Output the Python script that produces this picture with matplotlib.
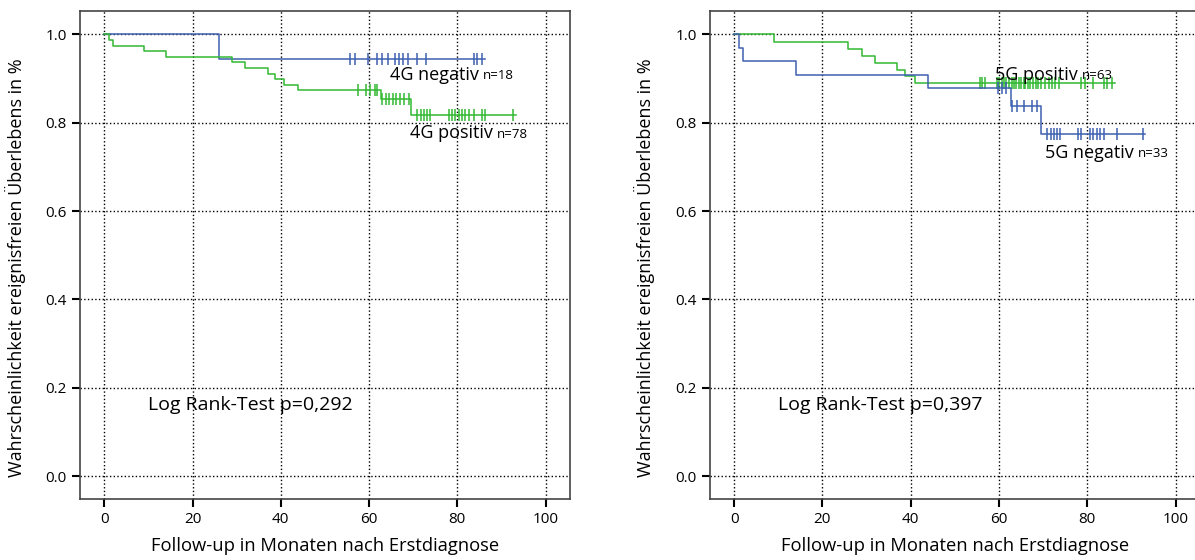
import numpy as np
import matplotlib
matplotlib.use('Agg')
import matplotlib.pyplot as plt

plt.rcParams['font.family'] = ['Open Sans', 'DejaVu Sans']

# Kaplan-Meier Daten
# links: 4G
neg4_t = [0, 26.0, 86.3]
neg4_s = [1.0, 0.944, 0.944]
neg4_cens = [55.7, 56.8, 59.7, 61.7, 63.0, 64.4, 65.9, 66.8, 67.8, 68.9, 70.8, 72.8, 83.7, 84.4, 85.6]

pos4_t = [0, 1.0, 2.0, 8.9, 14.1, 29.0, 31.9, 37.0, 38.7, 40.7, 43.9, 62.7, 69.6, 93.2]
pos4_s = [1.0, 0.987, 0.975, 0.962, 0.950, 0.937, 0.924, 0.911, 0.899, 0.886, 0.874, 0.855, 0.818, 0.818]
pos4_cens = [57.6, 59.2, 60.2, 61.3, 61.7, 63.0, 63.8, 64.5, 65.4, 66.2, 67.1, 68.0, 69.0,
             70.9, 71.7, 72.4, 73.2, 73.9, 78.0, 78.8, 79.5, 80.3, 81.1, 81.8, 82.6, 83.7,
             85.6, 86.3, 92.7]

# rechts: 5G
pos5_t = [0, 9.0, 25.9, 28.9, 32.0, 36.9, 38.8, 40.9, 86.3]
pos5_s = [1.0, 0.984, 0.968, 0.952, 0.936, 0.920, 0.905, 0.889, 0.889]
pos5_cens = [55.7, 56.2, 56.8, 59.6, 60.0, 60.6, 61.2, 61.7, 62.3, 62.9, 63.3, 63.9, 64.5,
             65.0, 65.6, 66.0, 66.6, 67.1, 67.7, 68.3, 68.9, 69.6, 70.4, 71.3, 72.0, 72.8,
             73.5, 78.6, 79.5, 81.4, 83.7, 84.4, 85.6]

neg5_t = [0, 1.0, 2.0, 14.1, 43.9, 62.7, 69.6, 93.2]
neg5_s = [1.0, 0.970, 0.939, 0.909, 0.878, 0.837, 0.774, 0.774]
neg5_cens = [59.7, 60.6, 61.5, 63.0, 64.1, 65.6, 67.5, 68.6, 70.9, 71.7, 72.4, 73.2, 73.9,
             77.9, 78.6, 80.7, 81.4, 82.2, 82.9, 83.7, 86.7, 92.7]

blau = '#3e5fb0'
gruen = '#33b833'


def km_kurve(ax, t, s, cens, farbe):
    ax.step(t, s, where='post', color=farbe, lw=1.1)
    t = np.array(t)
    s = np.array(s)
    idx = np.searchsorted(t, cens, side='right') - 1
    ax.plot(cens, s[idx], ls='none', marker='|', ms=8, mew=1.1, color=farbe)


def beschriften(ax, x, y, text, n):
    t = ax.text(x, y, text, fontsize=13, ha='left', va='center')
    ax.annotate(n, xy=(1, 0), xycoords=t, xytext=(3, 1), textcoords='offset points',
                fontsize=9.5, ha='left', va='bottom')


fig = plt.figure(figsize=(11.95, 5.6), dpi=100)
ax1 = fig.add_axes([0.0669, 0.109, 0.410, 0.872])
# rechter Plot ist am Bildrand abgeschnitten
ax2 = fig.add_axes([0.594, 0.109, 0.420, 0.872])

km_kurve(ax1, neg4_t, neg4_s, neg4_cens, blau)
km_kurve(ax1, pos4_t, pos4_s, pos4_cens, gruen)
beschriften(ax1, 64.7, 0.909, '4G negativ', 'n=18')
beschriften(ax1, 69.3, 0.777, '4G positiv', 'n=78')
ax1.text(9.9, 0.16, 'Log Rank-Test p=0,292', fontsize=14, ha='left', va='center')

km_kurve(ax2, pos5_t, pos5_s, pos5_cens, gruen)
km_kurve(ax2, neg5_t, neg5_s, neg5_cens, blau)
beschriften(ax2, 59.1, 0.909, '5G positiv', 'n=63')
beschriften(ax2, 70.4, 0.732, '5G negativ', 'n=33')
ax2.text(9.9, 0.16, 'Log Rank-Test p=0,397', fontsize=14, ha='left', va='center')

ax1.set_xlim(-5.5, 105.5)
ax2.set_xlim(-5.5, -5.5 + 111 * 0.420 / 0.410)

for ax in (ax1, ax2):
    ax.set_ylim(-0.052, 1.054)
    ax.set_xticks([0, 20, 40, 60, 80, 100])
    ax.set_yticks([0.0, 0.2, 0.4, 0.6, 0.8, 1.0])
    ax.set_yticklabels(['0.0', '0.2', '0.4', '0.6', '0.8', '1.0'])
    ax.grid(True, ls=':', color='black', lw=1)
    ax.set_axisbelow(True)
    ax.tick_params(direction='out', length=6, width=1.5, labelsize=11)
    ax.tick_params(top=False, right=False)
    for sp in ax.spines.values():
        sp.set_color('#444444')
        sp.set_linewidth(1.2)
    ax.set_xlabel('Follow-up in Monaten nach Erstdiagnose', fontsize=13.2)
    ax.xaxis.label.set_va('top')
    ax.set_ylabel('Wahrscheinlichkeit ereignisfreien Überlebens in %', fontsize=13)
    ax.yaxis.set_label_coords(-0.11, 0.473)

ax1.xaxis.set_label_coords(0.5, -0.078)
ax2.xaxis.set_label_coords(0.5 * 0.410 / 0.420, -0.078)

fig.savefig('out.png', dpi=100)
